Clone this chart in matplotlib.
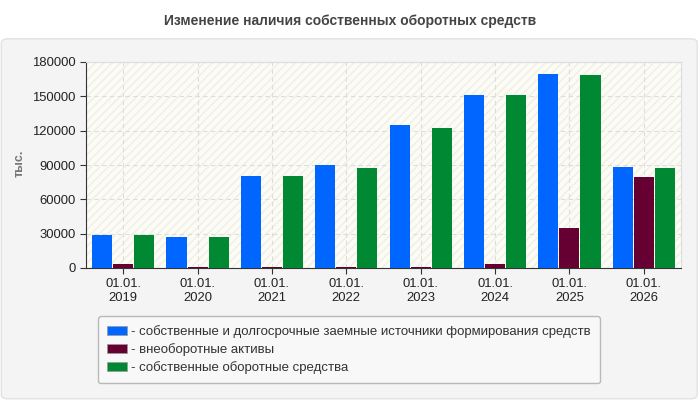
import matplotlib.pyplot as plt
import numpy as np
from matplotlib.patches import FancyBboxPatch, Rectangle

years = ["2019", "2020", "2021", "2022", "2023", "2024", "2025", "2026"]
sources = [29000, 27300, 80600, 90300, 125200, 151400, 169800, 88500]
noncurrent = [3700, 900, 900, 900, 900, 3700, 35200, 79800]
working = [29000, 27300, 80600, 87600, 122600, 151400, 168900, 87600]
labels = [
    "- собственные и долгосрочные заемные источники формирования средств",
    "- внеоборотные активы",
    "- собственные оборотные средства",
]
colors = ["#0066ff", "#660033", "#008833"]

plt.rcParams["font.family"] = ["Liberation Sans", "DejaVu Sans"]

fig = plt.figure(figsize=(7, 4), dpi=100)
fig.patch.set_facecolor("white")

# grey panel below the title
panel = FancyBboxPatch((0.002, 0.003), 0.994, 0.9, boxstyle="round,pad=0,rounding_size=0.01",
                       transform=fig.transFigure, facecolor="#f4f4f4",
                       edgecolor="#e2e2e2", linewidth=1, zorder=-10)
fig.patches.append(panel)
fig.text(0.5, 0.948, "Изменение наличия собственных оборотных средств",
         ha="center", va="center", fontsize=10, fontweight="bold", color="#444444")

ax = fig.add_axes([86 / 700, 1 - 268 / 400, 595 / 700, 206 / 400])
ax.set_zorder(2)
ax.set_facecolor("#fcfcf4")
ax.add_patch(Rectangle((0, 0), 1, 1, transform=ax.transAxes, facecolor="none",
                       edgecolor="#eeeeea", hatch="////", linewidth=0, zorder=0))

x = np.arange(len(years))
step = 0.283
width = 0.27
for i, (series, color) in enumerate(zip([sources, noncurrent, working], colors)):
    ax.bar(x + (i - 1) * step, series, width=width, color=color, zorder=3)

ax.set_xlim(-0.5, len(years) - 0.5)
ax.set_ylim(0, 180000)
ax.set_yticks(np.arange(0, 180001, 30000))
ax.set_xticks(x)
ax.set_xticklabels([f"01.01.\n{y}" for y in years])
ax.tick_params(labelsize=9.4, colors="#222222", length=4, color="#333333")
ax.grid(True, linestyle=(0, (4, 3)), color="#dddddd", linewidth=0.8, zorder=1)
for side in ("top", "right"):
    ax.spines[side].set_color("#dddddd")
for side in ("left", "bottom"):
    ax.spines[side].set_color("#333333")
fig.text(20 / 700, 1 - 163 / 400, "тыс.", rotation=90, ha="center", va="center",
         fontsize=9, fontweight="bold", color="#777777")

handles = [FancyBboxPatch((0, 0), 1, 1, boxstyle="round,pad=0,rounding_size=0.3",
                          facecolor=c, edgecolor="#999999", linewidth=0.5) for c in colors]
leg = fig.legend(handles, labels, loc="upper left", bbox_to_anchor=(98 / 700, 1 - 316 / 400),
                 borderaxespad=0, fontsize=9.55, frameon=True, fancybox=True,
                 handlelength=1.5, handleheight=0.65, handletextpad=0.3,
                 labelspacing=0.38, borderpad=0.7, labelcolor="#333333")
leg.set_zorder(3)
leg.get_frame().set_facecolor("#fafafa")
leg.get_frame().set_edgecolor("#aaaaaa")

fig.savefig("out.png", dpi=100, facecolor=fig.get_facecolor())
